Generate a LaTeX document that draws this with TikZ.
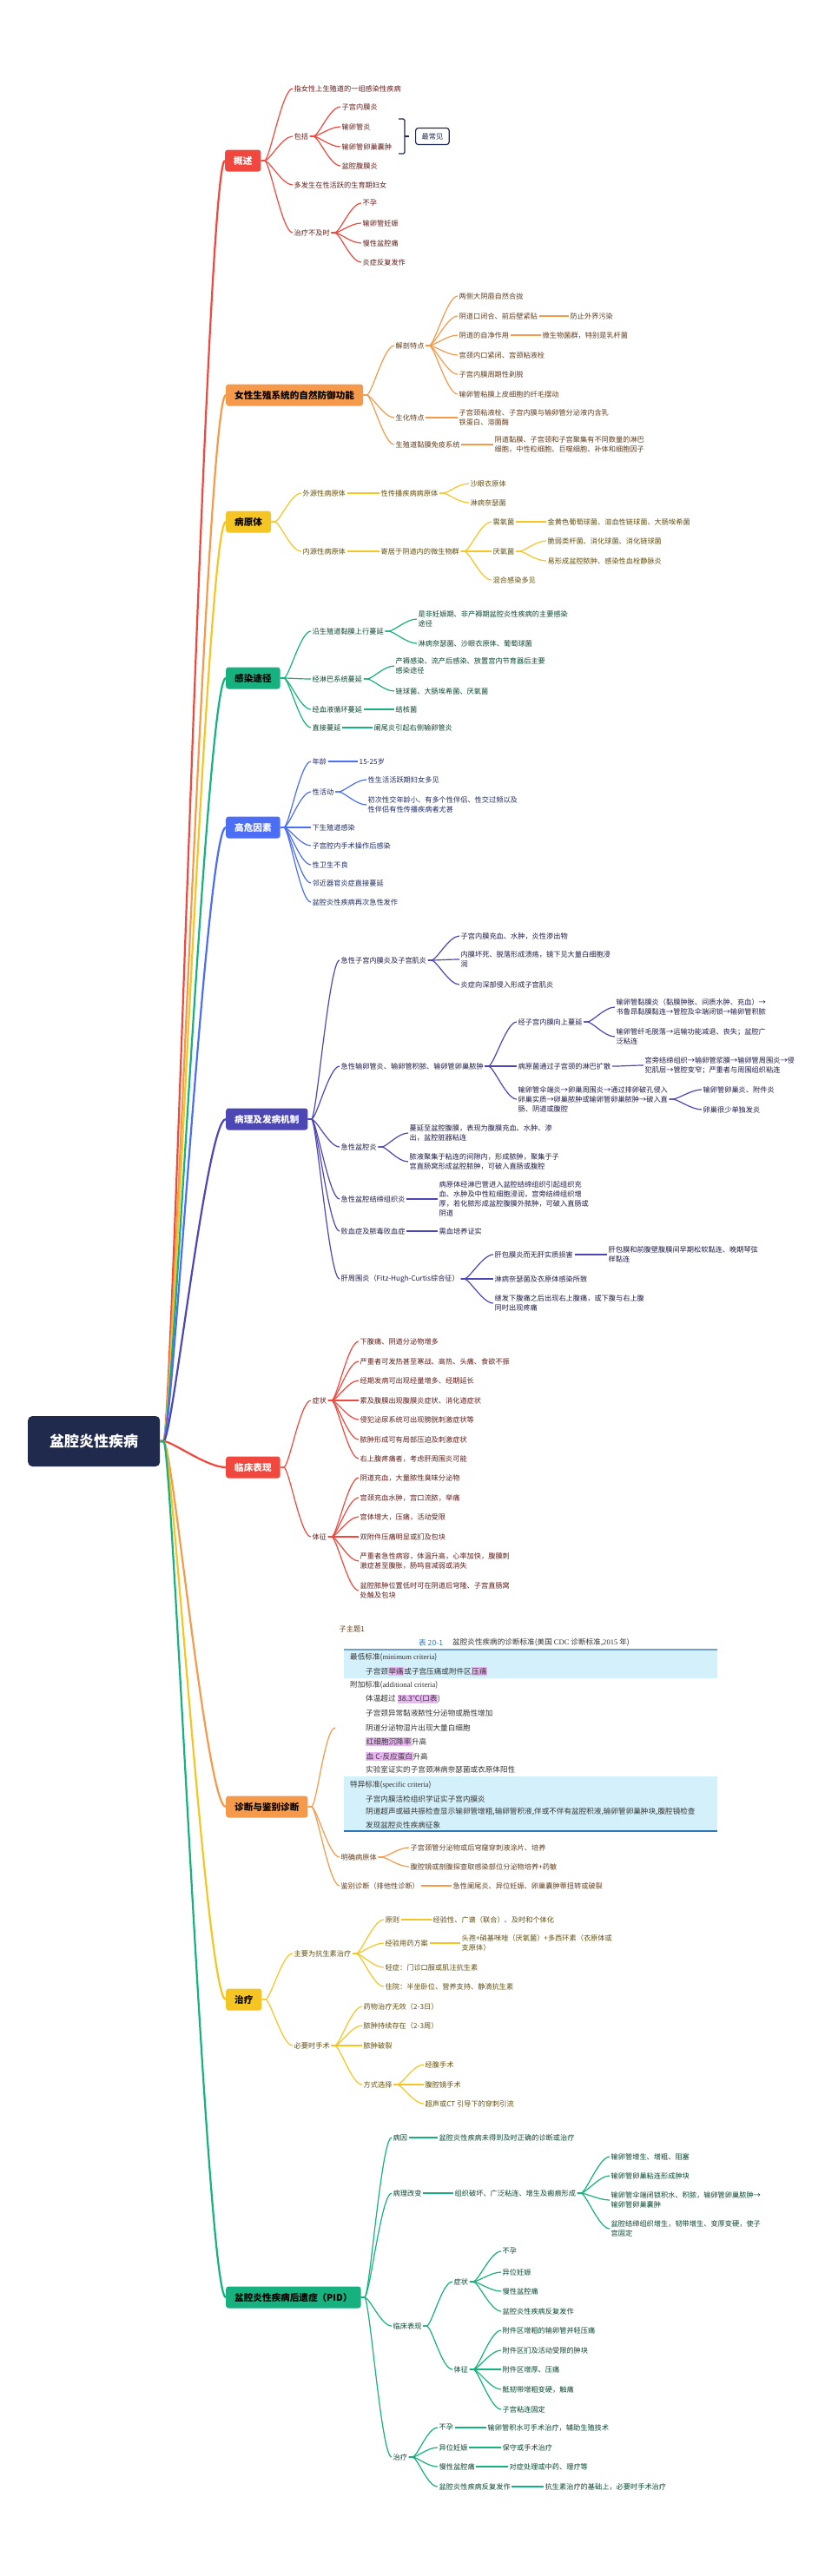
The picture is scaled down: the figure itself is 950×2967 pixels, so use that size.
\documentclass[tikz,border=0pt]{standalone}
\usepackage{fontspec}
\setmainfont{Noto Sans CJK SC}
\newfontfamily\lser{Liberation Serif}
\usetikzlibrary{calc}
\definecolor{cR}{HTML}{F0483E}
\definecolor{cO}{HTML}{F59A4B}
\definecolor{cY}{HTML}{F5C623}
\definecolor{cG}{HTML}{17B07F}
\definecolor{cB}{HTML}{4B6EF5}
\definecolor{cI}{HTML}{4C47B5}
\definecolor{cN}{HTML}{1F2A4D}
\definecolor{hlc}{HTML}{E9B8F2}
\definecolor{tbg}{HTML}{D4F1FB}
\definecolor{tbl}{HTML}{2F78B8}
\colorlet{tR}{cR!40!black}
\colorlet{tO}{cO!40!black}
\colorlet{tY}{cY!40!black}
\colorlet{tG}{cG!40!black}
\colorlet{tB}{cB!40!black}
\colorlet{tI}{cI!40!black}
\newcommand\fs[2]{\fontsize{#1}{#2}\selectfont}
\newcommand\hlt[1]{{\setlength\fboxsep{0.6pt}\colorbox{hlc}{#1}}}
\newcommand\cn[2]{\draw[ln] (#1.east) -- ++(4,0) .. controls +(6,0) and +(-12,0) .. (#2.west);}
\newcommand\cns[2]{\foreach \cc in {#2}{\cn{#1}{\cc}}}
\newcommand\rc[2]{\draw[line width=2.2pt, draw=#2] (root.east) -- ++(4,0) .. controls +(10,0) and +(-22,0) .. (#1.west);}
\tikzset{
  tc/.style={}, ln/.style={},
  tx/.style={anchor=west, inner xsep=1.5pt, inner ysep=1pt, align=left, font=\fs{8.2}{11}, tc},
  mb/.style={anchor=west, rounded corners=3pt, minimum height=25pt, inner xsep=10pt, inner ysep=0pt, font=\fs{10.6}{12}\bfseries},
  tt/.style={anchor=west, inner sep=0pt, font=\fs{8.6}{10}, text=black!80},
}
\begin{document}
\begin{tikzpicture}[x=1pt,y=-1pt]
\useasboundingbox (0,0) rectangle (950,2967);
\fill[white] (0,0) rectangle (950,2967);

% root
\node[fill=cN, text=white, rounded corners=5pt, minimum width=152pt, minimum height=58pt, font=\fs{17}{20}\bfseries, anchor=west] (root) at (32,1660) {盆腔炎性疾病};

% main boxes
\node[mb, fill=cR, text=white] (G1) at (259,185) {概述};
\node[mb, fill=cO, text=black] (G2) at (260,455) {女性生殖系统的自然防御功能};
\node[mb, fill=cY, text=black] (G3) at (260,601) {病原体};
\node[mb, fill=cG, text=black] (G4) at (260,781) {感染途径};
\node[mb, fill=cB, text=white] (G5) at (260,953) {高危因素};
\node[mb, fill=cI, text=white] (G6) at (260,1289) {病理及发病机制};
\node[mb, fill=cR, text=white] (G7) at (260,1690) {临床表现};
\node[mb, fill=cO, text=black] (G8) at (260,2081) {诊断与鉴别诊断};
\node[mb, fill=cY, text=black] (G9) at (260,2303) {治疗};
\node[mb, fill=cG, text=black] (G10) at (260,2646) {盆腔炎性疾病后遗症（PID）};

\rc{G1}{cR}\rc{G2}{cO}\rc{G3}{cY}\rc{G4}{cG}\rc{G5}{cB}
\rc{G6}{cI}\rc{G7}{cR}\rc{G8}{cO}\rc{G9}{cY}\rc{G10}{cG}

% ---------- 1 概述
\begin{scope}[tc/.style={text=tR}, ln/.style={draw=cR, line width=1.2pt}]
\node[tx] (a1) at (337,102) {指女性上生殖道的一组感染性疾病};
\node[tx] (a2) at (337,157) {包括};
\node[tx] (a21) at (392,123) {子宫内膜炎};
\node[tx] (a22) at (392,146) {输卵管炎};
\node[tx] (a23) at (392,169) {输卵管卵巢囊肿};
\node[tx] (a24) at (392,191) {盆腔腹膜炎};
\node[tx] (a3) at (337,213) {多发生在性活跃的生育期妇女};
\node[tx] (a4) at (337,268) {治疗不及时};
\node[tx] (a41) at (416,234) {不孕};
\node[tx] (a42) at (416,257) {输卵管妊娠};
\node[tx] (a43) at (416,280) {慢性盆腔痛};
\node[tx] (a44) at (416,302) {炎症反复发作};
\cns{G1}{a1,a2,a3,a4}
\cns{a2}{a21,a22,a23,a24}
\cns{a4}{a41,a42,a43,a44}
\end{scope}
\draw[cN, line width=1.3pt, rounded corners=1.5pt] (459,137) -- (466,137) -- (466,177) -- (459,177);
\draw[cN, line width=1.3pt] (466,157) -- (471,157);
\node[draw=cN, line width=1.2pt, rounded corners=3pt, anchor=west, minimum height=19pt, inner xsep=7pt, inner ysep=0pt, font=\fs{8.2}{10}, text=cN] (zc) at (478,157) {最常见};

% ---------- 2 防御
\begin{scope}[tc/.style={text=tO}, ln/.style={draw=cO, line width=1.2pt}]
\node[tx] (b1) at (454,398) {解剖特点};
\node[tx] (b11) at (527,341) {两侧大阴唇自然合拢};
\node[tx] (b12) at (527,364) {阴道口闭合、前后壁紧贴};
\node[tx] (b121) at (655,364) {防止外界污染};
\node[tx] (b13) at (527,386) {阴道的自净作用};
\node[tx] (b131) at (623,386) {微生物菌群，特别是乳杆菌};
\node[tx] (b14) at (527,409) {宫颈内口紧闭、宫颈粘液栓};
\node[tx] (b15) at (527,431) {子宫内膜周期性剥脱};
\node[tx] (b16) at (527,454) {输卵管粘膜上皮细胞的纤毛摆动};
\node[tx] (b2) at (454,481) {生化特点};
\node[tx] (b21) at (527,481) {子宫颈粘液栓、子宫内膜与输卵管分泌液内含乳\\铁蛋白、溶菌酶};
\node[tx] (b3) at (454,512) {生殖道黏膜免疫系统};
\node[tx] (b31) at (568,512) {阴道黏膜、子宫颈和子宫聚集有不同数量的淋巴\\细胞，中性粒细胞、巨噬细胞、补体和细胞因子};
\cns{G2}{b1,b2,b3}
\cns{b1}{b11,b12,b13,b14,b15,b16}
\cn{b12}{b121}\cn{b13}{b131}\cn{b2}{b21}\cn{b3}{b31}
\end{scope}

% ---------- 3 病原体
\begin{scope}[tc/.style={text=tY}, ln/.style={draw=cY, line width=1.2pt}]
\node[tx] (c1) at (347,568) {外源性病原体};
\node[tx] (c11) at (437,568) {性传播疾病病原体};
\node[tx] (c111) at (540,557) {沙眼衣原体};
\node[tx] (c112) at (540,579) {淋病奈瑟菌};
\node[tx] (c2) at (347,635) {内源性病原体};
\node[tx] (c21) at (437,635) {寄居于阴道内的微生物群};
\node[tx] (c211) at (566,601) {需氧菌};
\node[tx] (c2111) at (629,601) {金黄色葡萄球菌、溶血性链球菌、大肠埃希菌};
\node[tx] (c212) at (566,635) {厌氧菌};
\node[tx] (c2121) at (629,623) {脆弱类杆菌、消化球菌、消化链球菌};
\node[tx] (c2122) at (629,646) {易形成盆腔脓肿、感染性血栓静脉炎};
\node[tx] (c213) at (566,668) {混合感染多见};
\cns{G3}{c1,c2}
\cn{c1}{c11}\cns{c11}{c111,c112}
\cn{c2}{c21}\cns{c21}{c211,c212,c213}
\cn{c211}{c2111}\cns{c212}{c2121,c2122}
\end{scope}

% ---------- 4 感染途径
\begin{scope}[tc/.style={text=tG}, ln/.style={draw=cG, line width=1.2pt}]
\node[tx] (d1) at (358,727) {沿生殖道黏膜上行蔓延};
\node[tx] (d11) at (480,713) {是非妊娠期、非产褥期盆腔炎性疾病的主要感染\\途径};
\node[tx] (d12) at (480,741) {淋病奈瑟菌、沙眼衣原体、葡萄球菌};
\node[tx] (d2) at (358,782) {经淋巴系统蔓延};
\node[tx] (d21) at (454,767) {产褥感染、流产后感染、放置宫内节育器后主要\\感染途径};
\node[tx] (d22) at (454,796) {链球菌、大肠埃希菌、厌氧菌};
\node[tx] (d3) at (358,817) {经血液循环蔓延};
\node[tx] (d31) at (454,817) {结核菌};
\node[tx] (d4) at (358,838) {直接蔓延};
\node[tx] (d41) at (429,838) {阑尾炎引起右侧输卵管炎};
\cns{G4}{d1,d2,d3,d4}
\cns{d1}{d11,d12}\cns{d2}{d21,d22}\cn{d3}{d31}\cn{d4}{d41}
\end{scope}

% ---------- 5 高危因素
\begin{scope}[tc/.style={text=tB}, ln/.style={draw=cB, line width=1.2pt}]
\node[tx] (e1) at (358,877) {年龄};
\node[tx] (e11) at (412,877) {15-25岁};
\node[tx] (e2) at (358,912) {性活动};
\node[tx] (e21) at (422,898) {性生活活跃期妇女多见};
\node[tx] (e22) at (422,927) {初次性交年龄小、有多个性伴侣、性交过频以及\\性伴侣有性传播疾病者尤甚};
\node[tx] (e3) at (358,953) {下生殖道感染};
\node[tx] (e4) at (358,974) {子宫腔内手术操作后感染};
\node[tx] (e5) at (358,996) {性卫生不良};
\node[tx] (e6) at (358,1017) {邻近器官炎症直接蔓延};
\node[tx] (e7) at (358,1039) {盆腔炎性疾病再次急性发作};
\cns{G5}{e1,e2,e3,e4,e5,e6,e7}
\cn{e1}{e11}\cns{e2}{e21,e22}
\end{scope}

% ---------- 6 病理及发病机制
\begin{scope}[tc/.style={text=tI}, ln/.style={draw=cI, line width=1.2pt}]
\node[tx] (f1) at (391,1106) {急性子宫内膜炎及子宫肌炎};
\node[tx] (f11) at (529,1078) {子宫内膜充血、水肿，炎性渗出物};
\node[tx] (f12) at (529,1105) {内膜坏死、脱落形成溃疡，镜下见大量白细胞浸\\润};
\node[tx] (f13) at (529,1134) {炎症向深部侵入形成子宫肌炎};
\node[tx] (f2) at (391,1228) {急性输卵管炎、输卵管积脓、输卵管卵巢脓肿};
\node[tx] (f21) at (595,1177) {经子宫内膜向上蔓延};
\node[tx] (f211) at (708,1160) {输卵管黏膜炎（黏膜肿胀、间质水肿、充血）→\\书鲁昂黏膜黏连→管腔及伞端闭锁→输卵管积脓};
\node[tx] (f212) at (708,1194) {输卵管纤毛脱落→运输功能减退、丧失；盆腔广\\泛粘连};
\node[tx] (f22) at (595,1228) {病原菌通过子宫颈的淋巴扩散};
\node[tx] (f221) at (741,1227) {宫旁结缔组织→输卵管浆膜→输卵管周围炎→侵\\犯肌层→管腔变窄；严重者与周围组织粘连};
\node[tx] (f23) at (595,1266) {输卵管伞端炎→卵巢周围炎→通过排卵破孔侵入\\卵巢实质→卵巢脓肿或输卵管卵巢脓肿→破入直\\肠、阴道或腹腔};
\node[tx] (f231) at (808,1255) {输卵管卵巢炎、附件炎};
\node[tx] (f232) at (808,1278) {卵巢很少单独发炎};
\node[tx] (f3) at (391,1321) {急性盆腔炎};
\node[tx] (f31) at (470,1305) {蔓延至盆腔腹膜，表现为腹膜充血、水肿、渗\\出，盆腔脏器粘连};
\node[tx] (f32) at (470,1338) {脓液聚集于粘连的间隙内，形成脓肿，聚集于子\\宫直肠窝形成盆腔脓肿，可破入直肠或腹腔};
\node[tx] (f4) at (391,1381) {急性盆腔结缔组织炎};
\node[tx] (f41) at (504,1381) {病原体经淋巴管进入盆腔结缔组织引起组织充\\血、水肿及中性粒细胞浸润，宫旁结缔组织增\\厚，若化脓形成盆腔腹膜外脓肿，可破入直肠或\\阴道};
\node[tx] (f5) at (391,1418) {败血症及脓毒败血症};
\node[tx] (f51) at (504,1418) {需血培养证实};
\node[tx] (f6) at (391,1473) {肝周围炎（Fitz-Hugh-Curtis综合征）};
\node[tx] (f61) at (568,1445) {肝包膜炎而无肝实质损害};
\node[tx] (f611) at (699,1445) {肝包膜和前腹壁腹膜间早期松软黏连、晚期琴弦\\样黏连};
\node[tx] (f62) at (568,1473) {淋病奈瑟菌及衣原体感染所致};
\node[tx] (f63) at (568,1501) {继发下腹痛之后出现右上腹痛，或下腹与右上腹\\同时出现疼痛};
\cns{G6}{f1,f2,f3,f4,f5,f6}
\cns{f1}{f11,f12,f13}
\cns{f2}{f21,f22,f23}
\cns{f21}{f211,f212}\cn{f22}{f221}\cns{f23}{f231,f232}
\cns{f3}{f31,f32}\cn{f4}{f41}\cn{f5}{f51}
\cns{f6}{f61,f62,f63}\cn{f61}{f611}
\end{scope}

% ---------- 7 临床表现
\begin{scope}[tc/.style={text=tR}, ln/.style={draw=cR, line width=1.2pt}]
\node[tx] (g1) at (358,1613) {症状};
\node[tx] (g11) at (413,1545) {下腹痛、阴道分泌物增多};
\node[tx] (g12) at (413,1568) {严重者可发热甚至寒战、高热、头痛、食欲不振};
\node[tx] (g13) at (413,1590) {经期发病可出现经量增多、经期延长};
\node[tx] (g14) at (413,1613) {累及腹膜出现腹膜炎症状、消化道症状};
\node[tx] (g15) at (413,1635) {侵犯泌尿系统可出现膀胱刺激症状等};
\node[tx] (g16) at (413,1658) {脓肿形成可有局部压迫及刺激症状};
\node[tx] (g17) at (413,1680) {右上腹疼痛者，考虑肝周围炎可能};
\node[tx] (g2) at (358,1770) {体征};
\node[tx] (g21) at (413,1702) {阴道充血，大量脓性臭味分泌物};
\node[tx] (g22) at (413,1725) {宫颈充血水肿，宫口流脓，举痛};
\node[tx] (g23) at (413,1747) {宫体增大，压痛，活动受限};
\node[tx] (g24) at (413,1770) {双附件压痛明显或扪及包块};
\node[tx] (g25) at (413,1798) {严重者急性病容，体温升高，心率加快，腹膜刺\\激症甚至腹胀，肠鸣音减弱或消失};
\node[tx] (g26) at (413,1832) {盆腔脓肿位置低时可在阴道后穹隆、子宫直肠窝\\处触及包块};
\cns{G7}{g1,g2}
\cns{g1}{g11,g12,g13,g14,g15,g16,g17}
\cns{g2}{g21,g22,g23,g24,g25,g26}
\end{scope}

% ---------- 8 诊断与鉴别诊断
\begin{scope}[tc/.style={text=tO}, ln/.style={draw=cO, line width=1.2pt}]
\node[anchor=west, inner sep=0pt, minimum width=444pt, minimum height=248pt] (h1) at (386,1990) {};
\node[tx] (h1l) at (389,1876) {子主题1};
\node[tx] (h2) at (391,2139) {明确病原体};
\node[tx] (h21) at (471,2128) {子宫颈管分泌物或后穹窿穿刺液涂片、培养};
\node[tx] (h22) at (471,2150) {腹腔镜或剖腹探查取感染部位分泌物培养+药敏};
\node[tx] (h3) at (391,2172) {鉴别诊断（排他性诊断）};
\node[tx] (h31) at (520,2172) {急性阑尾炎、异位妊娠、卵巢囊肿蒂扭转或破裂};
\cns{G8}{h1,h2,h3}
\cns{h2}{h21,h22}\cn{h3}{h31}
\end{scope}
% table picture
\fill[tbg] (396,1900) rectangle (826,1933);
\fill[tbg] (396,2046) rectangle (826,2109);
\draw[tbl!70, line width=1.2pt] (396,1900) -- (826,1900);
\draw[tbl, line width=1.2pt] (396,2109) -- (826,2109);
\node[tt, text=tbl] (tt0) at (482,1892) {表 20-1};
\node[tt] (tt00) at (521,1892) {盆腔炎性疾病的诊断标准(美国 {\lser CDC} 诊断标准,{\lser 2015} 年)};
\node[tt] (t1) at (403,1909) {最低标准({\lser minimum criteria})};
\node[tt] (t2) at (421,1925) {子宫颈\hlt{举痛}或子宫压痛或附件区\hlt{压痛}};
\node[tt] (t3) at (403,1941) {附加标准({\lser additional criteria})};
\node[tt] (t4) at (421,1957) {体温超过 \hlt{38.3℃(口表}{)}};
\node[tt] (t5) at (421,1973) {子宫颈异常黏液脓性分泌物或脆性增加};
\node[tt] (t6) at (421,1990) {阴道分泌物湿片出现大量白细胞};
\node[tt] (t7) at (421,2006) {\hlt{红细胞沉降率}升高};
\node[tt] (t8) at (421,2023) {\hlt{血 C-反应蛋白}升高};
\node[tt] (t9) at (421,2038) {实验室证实的子宫颈淋病奈瑟菌或衣原体阳性};
\node[tt] (t10) at (403,2056) {特异标准({\lser specific criteria})};
\node[tt] (t11) at (421,2072) {子宫内膜活检组织学证实子宫内膜炎};
\node[tt] (t12) at (421,2087) {阴道超声或磁共振检查显示输卵管增粗,输卵管积液,伴或不伴有盆腔积液,输卵管卵巢肿块,腹腔镜检查};
\node[tt] (t13) at (421,2102) {发现盆腔炎性疾病征象};

% ---------- 9 治疗
\begin{scope}[tc/.style={text=tY}, ln/.style={draw=cY, line width=1.2pt}]
\node[tx] (i1) at (337,2250) {主要为抗生素治疗};
\node[tx] (i11) at (442,2211) {原则};
\node[tx] (i111) at (497,2211) {经验性、广谱（联合）、及时和个体化};
\node[tx] (i12) at (442,2238) {经验用药方案};
\node[tx] (i121) at (530,2238) {头孢+硝基咪唑（厌氧菌）+多西环素（衣原体或\\支原体）};
\node[tx] (i13) at (442,2266) {轻症：门诊口服或肌注抗生素};
\node[tx] (i14) at (442,2288) {住院：半坐卧位、营养支持、静滴抗生素};
\node[tx] (i2) at (337,2356) {必要时手术};
\node[tx] (i21) at (417,2311) {药物治疗无效（2-3日）};
\node[tx] (i22) at (417,2333) {脓肿持续存在（2-3周）};
\node[tx] (i23) at (417,2356) {脓肿破裂};
\node[tx] (i24) at (417,2401) {方式选择};
\node[tx] (i241) at (488,2378) {经腹手术};
\node[tx] (i242) at (488,2401) {腹腔镜手术};
\node[tx] (i243) at (488,2423) {超声或CT 引导下的穿刺引流};
\cns{G9}{i1,i2}
\cns{i1}{i11,i12,i13,i14}\cn{i11}{i111}\cn{i12}{i121}
\cns{i2}{i21,i22,i23,i24}\cns{i24}{i241,i242,i243}
\end{scope}

% ---------- 10 后遗症
\begin{scope}[tc/.style={text=tG}, ln/.style={draw=cG, line width=1.2pt}]
\node[tx] (j1) at (451,2462) {病因};
\node[tx] (j11) at (504,2462) {盆腔炎性疾病未得到及时正确的诊断或治疗};
\node[tx] (j2) at (451,2526) {病理改变};
\node[tx] (j21) at (522,2526) {组织破坏、广泛粘连、增生及瘢痕形成};
\node[tx] (j211) at (702,2484) {输卵管增生、增粗、阻塞};
\node[tx] (j212) at (702,2506) {输卵管卵巢粘连形成肿块};
\node[tx] (j213) at (702,2534) {输卵管伞端闭锁积水、积脓，输卵管卵巢脓肿→\\输卵管卵巢囊肿};
\node[tx] (j214) at (702,2567) {盆腔结缔组织增生，韧带增生、变厚变硬，使子\\宫固定};
\node[tx] (j3) at (451,2679) {临床表现};
\node[tx] (j31) at (521,2628) {症状};
\node[tx] (j311) at (577,2593) {不孕};
\node[tx] (j312) at (577,2617) {异位妊娠};
\node[tx] (j313) at (577,2639) {慢性盆腔痛};
\node[tx] (j314) at (577,2662) {盆腔炎性疾病反复发作};
\node[tx] (j32) at (521,2729) {体征};
\node[tx] (j321) at (577,2684) {附件区增粗的输卵管并轻压痛};
\node[tx] (j322) at (577,2707) {附件区扪及活动受限的肿块};
\node[tx] (j323) at (577,2729) {附件区增厚、压痛};
\node[tx] (j324) at (577,2752) {骶韧带增粗变硬，触痛};
\node[tx] (j325) at (577,2775) {子宫粘连固定};
\node[tx] (j4) at (451,2830) {治疗};
\node[tx] (j41) at (504,2796) {不孕};
\node[tx] (j411) at (560,2796) {输卵管积水可手术治疗，辅助生殖技术};
\node[tx] (j42) at (504,2819) {异位妊娠};
\node[tx] (j421) at (577,2819) {保守或手术治疗};
\node[tx] (j43) at (504,2841) {慢性盆腔痛};
\node[tx] (j431) at (585,2841) {对症处理或中药、理疗等};
\node[tx] (j44) at (504,2864) {盆腔炎性疾病反复发作};
\node[tx] (j441) at (626,2864) {抗生素治疗的基础上，必要时手术治疗};
\cns{G10}{j1,j2,j3,j4}
\cn{j1}{j11}\cn{j2}{j21}\cns{j21}{j211,j212,j213,j214}
\cns{j3}{j31,j32}\cns{j31}{j311,j312,j313,j314}\cns{j32}{j321,j322,j323,j324,j325}
\cns{j4}{j41,j42,j43,j44}
\cn{j41}{j411}\cn{j42}{j421}\cn{j43}{j431}\cn{j44}{j441}
\end{scope}
\end{tikzpicture}
\end{document}
